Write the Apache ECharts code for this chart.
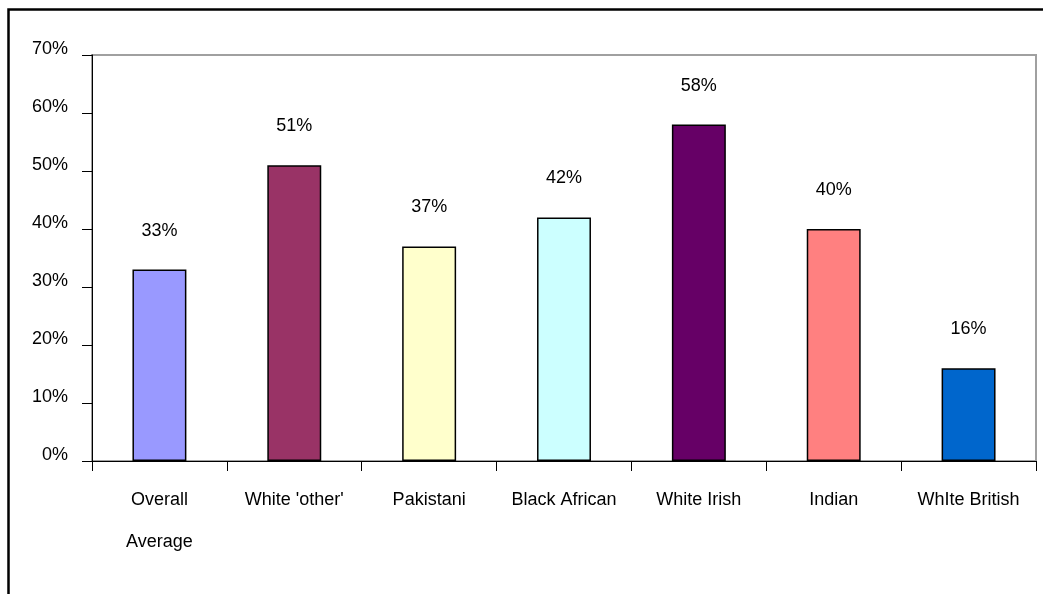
<!DOCTYPE html>
<html>
<head>
<meta charset="utf-8">
<title>Share by group</title>
<script src="https://cdn.jsdelivr.net/npm/echarts@6/dist/echarts.min.js"></script>
<style>
  html, body { margin: 0; padding: 0; background: #ffffff; }
  #chart { width: 1043px; height: 594px; }
</style>
</head>
<body>
<div id="chart"></div>
<script>
// Groups along the x axis
const categories = ['Overall\nAverage', "White 'other'", 'Pakistani', 'Black African', 'White Irish', 'Indian', 'WhIte British'];
// Percentage for each group
const values = [33, 51, 37, 42, 58, 40, 16];
// Fill colour for each bar
const barColors = ['#9999FF', '#993366', '#FFFFCC', '#CCFFFF', '#660066', '#FF8080', '#0066CC'];
// Value axis range
const yMin = 0, yMax = 70, yStep = 10;

const font = '"Liberation Sans", Arial, sans-serif';
const chart = echarts.init(document.getElementById('chart'), null, { renderer: 'canvas' });

chart.setOption({
  backgroundColor: '#ffffff',
  animation: false,
  textStyle: { fontFamily: font, color: '#000' },
  graphic: [{
    type: 'rect',
    shape: { x: 8.5, y: 9.5, width: 1200, height: 800 },
    style: { fill: 'none', stroke: '#000', lineWidth: 2.5 },
    silent: true,
    z: 100
  }],
  grid: {
    left: 92, right: 7, top: 55, bottom: 133,
    show: true, borderColor: '#a0a0a0', borderWidth: 2, backgroundColor: '#fff'
  },
  xAxis: {
    type: 'category',
    data: categories,
    axisLine: { show: true, lineStyle: { color: '#000', width: 1 } },
    axisTick: { show: true, length: 10, lineStyle: { color: '#000' } },
    axisLabel: {
      interval: 0, margin: 18, fontSize: 18, lineHeight: 42,
      verticalAlign: 'top', color: '#000', fontFamily: font
    },
    splitLine: { show: false }
  },
  yAxis: {
    type: 'value',
    min: yMin, max: yMax, interval: yStep,
    axisLine: { show: true, lineStyle: { color: '#000', width: 1 } },
    axisTick: { show: true, length: 10, lineStyle: { color: '#000' } },
    axisLabel: {
      formatter: '{value}%', fontSize: 18, margin: 24, color: '#000',
      verticalAlign: 'bottom', lineHeight: 12, fontFamily: font
    },
    splitLine: { show: false }
  },
  series: [{
    type: 'bar',
    barWidth: '40%',
    data: values.map((v, i) => ({
      value: v,
      itemStyle: { color: barColors[i], borderColor: '#000', borderWidth: 1.5 }
    })),
    label: {
      show: true, position: 'top', distance: 30,
      formatter: '{c}%', fontSize: 18, lineHeight: 18, color: '#000', fontFamily: font
    }
  }]
});
</script>
</body>
</html>
